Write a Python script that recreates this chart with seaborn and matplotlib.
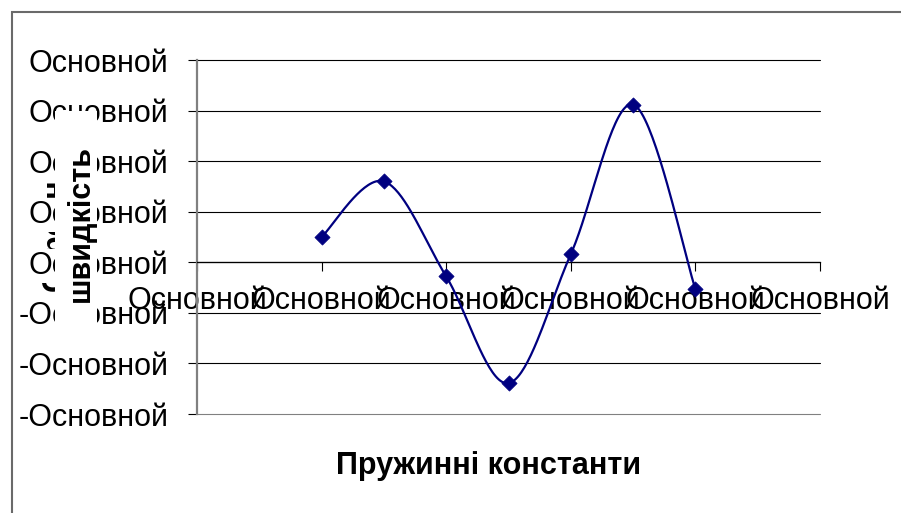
import numpy as np
import pandas as pd
import matplotlib
matplotlib.use("Agg")
import matplotlib.pyplot as plt
import seaborn as sns
from matplotlib.patches import Rectangle

# Series values
spring_k = [1.0, 1.5, 2.0, 2.5, 3.0, 3.5, 4.0]
speed = [0.50, 1.60, -0.28, -2.39, 0.16, 3.12, -0.53]

# Axis ticks and labels
x_ticks = [0, 1, 2, 3, 4, 5]
x_tick_labels = ["Основной"] * 6
y_ticks = [-3, -2, -1, 0, 1, 2, 3, 4]
y_tick_labels = ["-Основной", "-Основной", "-Основной",
                 "Основной", "Основной", "Основной", "Основной", "Основной"]
x_title = "Пружинні константи"
y_title_top = "Середня"
y_title_bottom = "швидкість"


def smooth_curve(xs, ys, n=40):
    """Cubic Bezier smoothing through every point (spreadsheet-style)."""
    p = np.column_stack([xs, ys]).astype(float)
    ext = np.vstack([p[0], p, p[-1]])
    parts = []
    t = np.linspace(0, 1, n)[:, None]
    for i in range(len(p) - 1):
        p0, p1, p2, p3 = ext[i], ext[i + 1], ext[i + 2], ext[i + 3]
        c1 = p1 + (p2 - p0) / 6.0
        c2 = p2 - (p3 - p1) / 6.0
        seg = ((1 - t) ** 3) * p1 + 3 * ((1 - t) ** 2) * t * c1 \
            + 3 * (1 - t) * (t ** 2) * c2 + (t ** 3) * p2
        parts.append(seg if i == 0 else seg[1:])
    return np.vstack(parts)


sns.set_style("white")
plt.rcParams["font.family"] = ["Liberation Sans", "DejaVu Sans"]
plt.rcParams["text.color"] = "black"
plt.rcParams["xtick.color"] = "black"
plt.rcParams["ytick.color"] = "black"

W, H = 901, 513
fig = plt.figure(figsize=(W / 100, H / 100), dpi=100)
fig.patch.set_facecolor("white")

left, right, top, bottom = 197, 820, 60, 414
ax = fig.add_axes([left / W, 1 - bottom / H, (right - left) / W, (bottom - top) / H])
ax.set_facecolor("none")

points = pd.DataFrame({"k": spring_k, "v": speed})
curve = smooth_curve(spring_k, speed)
curve_df = pd.DataFrame({"k": curve[:, 0], "v": curve[:, 1]})

navy = "#000080"
sns.lineplot(data=curve_df, x="k", y="v", sort=False, estimator=None,
             color=navy, lw=1.6, ax=ax, zorder=3)
sns.scatterplot(data=points, x="k", y="v", marker="D", s=60, color=navy,
                edgecolor=navy, linewidth=0.5, ax=ax, zorder=4)

# Spines first: moving a spine resets the tick objects
for s in ("top", "right"):
    ax.spines[s].set_visible(False)
ax.spines["left"].set_color("#808080")
ax.spines["left"].set_linewidth(1.6)
ax.spines["bottom"].set_position(("data", 0))
ax.spines["bottom"].set_color("black")
ax.spines["bottom"].set_linewidth(0.9)

ax.set_xlim(0, 5)
ax.set_ylim(-3, 4)
ax.set_xticks(x_ticks)
ax.set_xticklabels(x_tick_labels)
ax.set_yticks(y_ticks)
ax.set_yticklabels(y_tick_labels)
ax.set_xlabel("")
ax.set_ylabel("")

ax.tick_params(axis="y", direction="out", length=6.5, width=0.8,
               color="black", labelcolor="black", labelsize=22, pad=14, left=True)
ax.tick_params(axis="x", direction="out", length=6.5, width=0.8,
               color="black", labelcolor="black", labelsize=22, pad=10.5, bottom=True)

ax.yaxis.grid(True, color="black", lw=0.8)
ax.xaxis.grid(False)
ax.set_axisbelow(True)
gridlines = ax.get_ygridlines()
for gl in gridlines:
    gl.set_clip_on(False)
gridlines[0].set_color("#808080")

# White backing on the upper value labels (the title sits across them)
for val, lab in zip(y_ticks, ax.get_yticklabels()):
    if val >= 0:
        lab.set_bbox(dict(facecolor="white", edgecolor="none", pad=1.5))

# Outer chart frame
fig.patches.append(Rectangle((12 / W, -0.2), 1.2, 1.2 - 12 / H,
                             transform=fig.transFigure, fill=False,
                             edgecolor="#6a6a6a", lw=1.5, zorder=-2))

# Axis titles
fig.text(489 / W, 1 - 466 / H, x_title, ha="center", va="center",
         fontsize=22, fontweight="bold", color="black")
fig.text(56 / W, 1 - 226 / H, y_title_top, ha="center", va="center",
         rotation=90, fontsize=22, fontweight="bold", color="black", zorder=-1)
fig.patches.append(Rectangle((55 / W, 1 - 330 / H), 42 / W, 219 / H,
                             transform=fig.transFigure, facecolor="white",
                             edgecolor="none", zorder=5))
fig.text(81 / W, 1 - 224 / H, y_title_bottom, ha="center", va="center",
         rotation=90, fontsize=22, fontweight="bold", color="black", zorder=6)

fig.savefig("out.png", dpi=100)
